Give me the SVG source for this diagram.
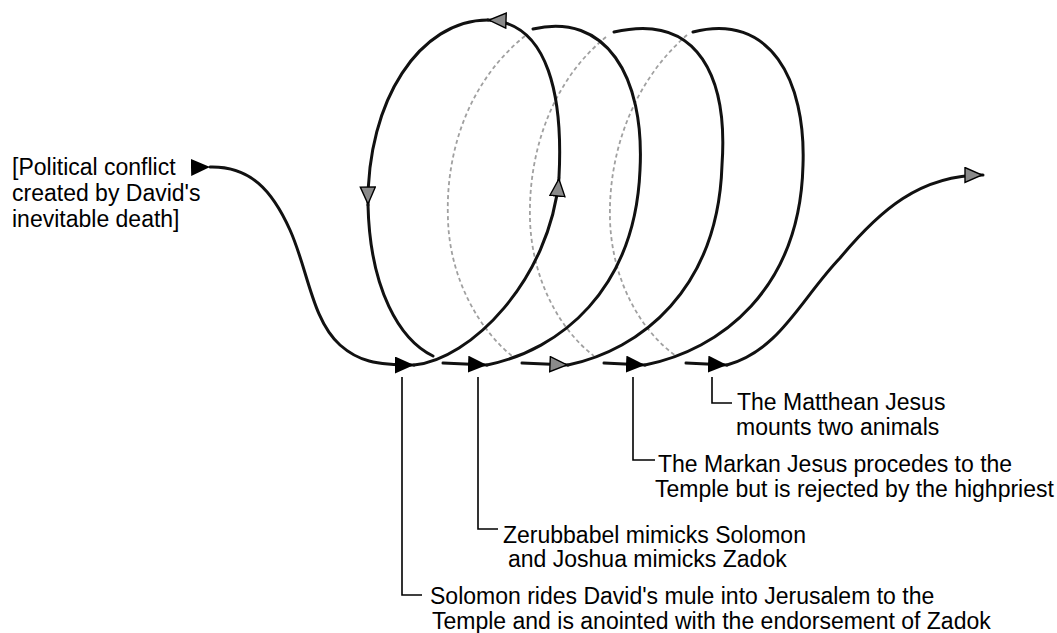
<svg xmlns="http://www.w3.org/2000/svg" width="1057" height="633" viewBox="0 0 1057 633">
<style>
  .t { font-family: "Liberation Sans", Arial, sans-serif; font-size: 23px; fill: #000; }
  .front { fill: none; stroke: #111; stroke-width: 3; stroke-linecap: round; }
  .back { fill: none; stroke: #a0a0a0; stroke-width: 1.8; stroke-dasharray: 4 3; }
  .lead { fill: none; stroke: #000; stroke-width: 1.6; }
</style>
<defs>
  <marker id="ab" markerUnits="userSpaceOnUse" viewBox="0 0 20 17" markerWidth="20" markerHeight="17" refX="19" refY="8.5" orient="auto">
    <path d="M0,0 L19,8.5 L0,17 z" fill="#000"/>
  </marker>
  <marker id="ag" markerUnits="userSpaceOnUse" viewBox="0 0 20 17" markerWidth="20" markerHeight="17" refX="19" refY="8.5" orient="auto">
    <path d="M1,1 L18,8.5 L1,16 z" fill="#8a8a8a" stroke="#000" stroke-width="1.4"/>
  </marker>
</defs>
<rect width="1057" height="633" fill="#fff"/>
<g id="connectors">
  <!-- back strokes (behind) -->
  <path class="back" d="M525,36 C470,80 445,150 448,220 C450,280 480,330 512,356"/>
  <path class="back" d="M606,37 C553,80 528,150 530,220 C532,280 560,330 594,356"/>
  <path class="back" d="M687,35 C635,80 608,150 610,220 C612,280 640,330 676,356"/>
  <!-- incoming curve -->
  <path class="front" d="M210,167 C250,166 272,190 290,230 C308,270 312,320 340,345 C358,361 375,365 414,365" marker-start="url(#ab)" marker-end="url(#ab)"/>
  <!-- loop 1 -->
  <path class="front" d="M414,365 C470,360 550,280 559,178" marker-end="url(#ag)"/>
  <path class="front" d="M559,177 C563,100 550,22 488,20" marker-end="url(#ag)"/>
  <path class="front" d="M488,20 C420,20 367,100 368,205" marker-end="url(#ag)"/>
  <path class="front" d="M368,205 C370,290 400,340 433,356"/>
  <path class="front" d="M443,363 L487,365" marker-end="url(#ab)"/>
  <!-- loop 2 -->
  <path class="front" d="M487,365 C560,350 635,290 640,170 C645,75 605,12 533,29"/>
  <path class="front" d="M522,363 L568,365" marker-end="url(#ag)"/>
  <!-- loop 3 -->
  <path class="front" d="M568,365 C640,350 718,290 722,165 C728,80 700,12 614,32"/>
  <path class="front" d="M604,363 L645,365" marker-end="url(#ab)"/>
  <!-- loop 4 -->
  <path class="front" d="M645,365 C720,350 800,290 803,165 C806,80 770,12 693,32"/>
  <path class="front" d="M686,363 L727,365" marker-end="url(#ab)"/>
  <!-- outgoing curve -->
  <path class="front" d="M727,365 C780,350 800,300 840,258 C880,210 920,175 983,175" marker-end="url(#ag)"/>
  <!-- leader lines -->
  <path class="lead" d="M402,377 V595 H422"/>
  <path class="lead" d="M478,377 V529 H498"/>
  <path class="lead" d="M633,377 V460 H655"/>
  <path class="lead" d="M712,377 V403 H732"/>
</g>
<g id="start-label">
  <text class="t" x="12" y="175">[Political conflict</text>
  <text class="t" x="12" y="201">created by David's</text>
  <text class="t" x="12" y="227">inevitable death]</text>
</g>
<g id="matthean-label">
  <text class="t" x="737" y="410">The Matthean Jesus</text>
  <text class="t" x="736" y="435">mounts two animals</text>
</g>
<g id="markan-label">
  <text class="t" x="658" y="472">The Markan Jesus procedes to the</text>
  <text class="t" x="655" y="497">Temple but is rejected by the highpriest</text>
</g>
<g id="zerubbabel-label">
  <text class="t" x="503" y="543">Zerubbabel mimicks Solomon</text>
  <text class="t" x="508" y="567">and Joshua mimicks Zadok</text>
</g>
<g id="solomon-label">
  <text class="t" x="430" y="604">Solomon rides David's mule into Jerusalem to the</text>
  <text class="t" x="432" y="629">Temple and is anointed with the endorsement of Zadok</text>
</g>
</svg>
